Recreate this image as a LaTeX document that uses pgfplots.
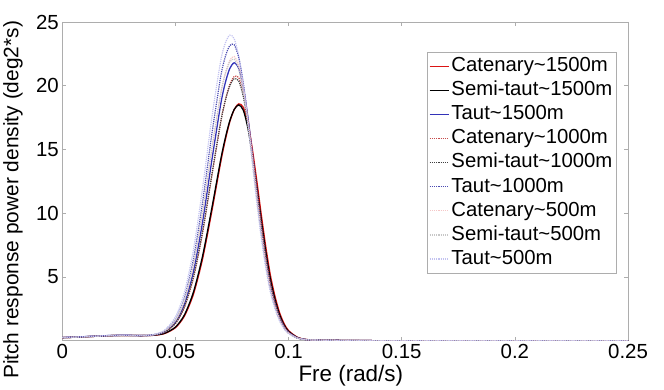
\documentclass[border=0pt]{standalone}
\usepackage{pgfplots}
\pgfplotsset{compat=1.18}
\usepackage{pgfplotstable}
\usepackage{fontspec}
\setmainfont{Liberation Sans}
\definecolor{cRed}{rgb}{0.86,0.08,0.08}
\definecolor{cBlue}{rgb}{0.2,0.2,0.72}
\definecolor{dRed}{rgb}{0.78,0.3,0.3}
\definecolor{dBlk}{rgb}{0.25,0.25,0.25}
\definecolor{dBlue}{rgb}{0.3,0.3,0.7}
\definecolor{pRed}{rgb}{0.96,0.78,0.78}
\definecolor{pGry}{rgb}{0.78,0.78,0.78}
\definecolor{pBlue}{rgb}{0.76,0.76,0.94}
\definecolor{frame}{rgb}{0.68,0.68,0.68}
\pgfplotstableread{
x c15 s15 t15 c10 s10 t10 c5 s5 t5
0 0.25 0.25 0.26 0.25 0.25 0.26 0.25 0.25 0.26
0.005 0.28 0.28 0.29 0.28 0.28 0.29 0.28 0.28 0.29
0.01 0.32 0.32 0.33 0.32 0.32 0.33 0.32 0.32 0.33
0.015 0.36 0.36 0.37 0.36 0.36 0.37 0.36 0.36 0.37
0.02 0.40 0.40 0.41 0.40 0.40 0.41 0.40 0.40 0.41
0.025 0.42 0.42 0.43 0.42 0.42 0.43 0.42 0.42 0.43
0.03 0.42 0.42 0.43 0.42 0.42 0.43 0.42 0.42 0.43
0.035 0.41 0.41 0.41 0.41 0.41 0.42 0.42 0.42 0.42
0.04 0.43 0.44 0.46 0.46 0.46 0.47 0.47 0.48 0.49
0.045 0.56 0.58 0.69 0.66 0.67 0.75 0.73 0.75 0.81
0.05 1.03 1.08 1.45 1.35 1.38 1.68 1.59 1.63 1.88
0.054 1.95 2.04 2.89 2.63 2.70 3.40 3.16 3.24 3.82
0.058 3.68 3.84 5.47 4.95 5.06 6.45 5.93 6.06 7.18
0.062 6.43 6.65 9.33 8.46 8.58 10.88 10.01 10.15 11.97
0.066 10.08 10.32 14.06 12.83 12.94 16.09 14.87 14.99 17.39
0.070 14.00 14.20 18.54 17.13 17.16 20.71 19.35 19.37 21.95
0.072 15.72 15.87 20.21 18.84 18.80 22.26 20.96 20.91 23.33
0.074 17.16 17.24 21.35 20.09 19.99 23.15 21.99 21.86 23.97
0.076 18.14 18.15 21.80 20.73 20.56 23.21 22.29 22.08 23.68
0.078 18.58 18.50 21.35 20.63 20.37 22.20 21.61 21.29 22.29
0.080 18.31 18.08 19.86 19.49 19.14 20.21 19.90 19.50 19.99
0.082 17.05 16.70 17.54 17.45 17.04 17.51 17.40 16.96 17.09
0.084 15.01 14.58 14.72 14.79 14.37 14.45 14.45 14.01 13.92
0.086 12.49 12.02 11.73 11.88 11.48 11.34 11.39 10.99 10.80
0.088 9.81 9.37 8.87 9.04 8.69 8.47 8.53 8.19 7.98
0.090 7.29 6.90 6.37 6.52 6.23 6.03 6.07 5.79 5.63
0.092 5.11 4.80 4.35 4.45 4.23 4.08 4.10 3.89 3.78
0.094 3.49 3.25 2.92 2.98 2.82 2.73 2.73 2.58 2.52
0.096 2.22 2.06 1.83 1.87 1.76 1.71 1.70 1.60 1.57
0.098 1.36 1.25 1.11 1.13 1.06 1.04 1.03 0.97 0.95
0.100 0.80 0.74 0.66 0.66 0.63 0.62 0.61 0.57 0.57
0.104 0.27 0.25 0.23 0.23 0.21 0.22 0.21 0.20 0.21
0.108 0.10 0.09 0.09 0.09 0.09 0.09 0.09 0.09 0.09
0.115 0.05 0.05 0.05 0.05 0.05 0.05 0.05 0.05 0.05
0.12 0.04 0.04 0.04 0.04 0.04 0.04 0.04 0.04 0.04
0.13 0.02 0.02 0.02 0.02 0.02 0.02 0.02 0.02 0.02
0.15 0.01 0.01 0.01 0.01 0.01 0.01 0.01 0.01 0.01
0.2 0.005 0.005 0.005 0.005 0.005 0.005 0.005 0.005 0.005
0.25 0 0 0 0 0 0 0 0 0
}\datatable
\begin{document}
\begin{tikzpicture}
\begin{axis}[
  name=ax,
  scale only axis,
  width=566bp, height=319bp,
  xmin=0, xmax=0.25, ymin=0, ymax=25,
  xtick={0,0.05,0.1,0.15,0.2,0.25},
  ytick={5,10,15,20,25},
  scaled x ticks=false,
  /pgf/number format/assume math mode=true,
  xticklabel style={/pgf/number format/fixed, /pgf/number format/precision=2},
  tick label style={font=\fontsize{20.5}{22}\selectfont},
  tick align=inside,
  major tick length=4bp,
  axis line style={frame, line width=0.8bp},
  every tick/.style={frame, line width=0.6bp},
  xlabel={Fre (rad/s)},
  ylabel={Pitch response power density (deg2*s)},
  xlabel style={font=\fontsize{22.5}{24}\selectfont, at={(axis description cs:0.51,-0.108)}, anchor=center},
  ylabel style={font=\fontsize{21}{23}\selectfont, at={(axis description cs:-0.087,0.442)}, anchor=center, rotate=0},
  legend cell align=left,
  legend style={at={(axis description cs:0.9806,0.906)}, anchor=north east,
    draw=frame, line width=0.7bp, fill=white,
    font=\fontsize{20.4}{24}\selectfont,
    inner xsep=2bp, inner ysep=2bp,
    nodes={text height=15bp, text depth=4.5bp, inner sep=2.3bp},
    row sep=0pt},
  legend image code/.code={\draw[#1] (0bp,0bp) -- (19bp,0bp);},
  every axis plot/.append style={smooth, tension=0.45},
]
\addplot[cRed, line width=1.3bp] table[x=x, y=c15] {\datatable};
\addlegendentry{Catenary\textasciitilde 1500m}
\addplot[black, line width=1.3bp] table[x=x, y=s15] {\datatable};
\addlegendentry{Semi-taut\textasciitilde 1500m}
\addplot[cBlue, line width=1.3bp] table[x=x, y=t15] {\datatable};
\addlegendentry{Taut\textasciitilde 1500m}
\addplot[dRed, line width=1.2bp, densely dotted] table[x=x, y=c10] {\datatable};
\addlegendentry{Catenary\textasciitilde 1000m}
\addplot[dBlk, line width=1.2bp, densely dotted] table[x=x, y=s10] {\datatable};
\addlegendentry{Semi-taut\textasciitilde 1000m}
\addplot[dBlue, line width=1.2bp, densely dotted] table[x=x, y=t10] {\datatable};
\addlegendentry{Taut\textasciitilde 1000m}
\addplot[pRed, line width=1.2bp, densely dotted] table[x=x, y=c5] {\datatable};
\addlegendentry{Catenary\textasciitilde 500m}
\addplot[pGry, line width=1.2bp, densely dotted] table[x=x, y=s5] {\datatable};
\addlegendentry{Semi-taut\textasciitilde 500m}
\addplot[pBlue, line width=1.2bp, densely dotted] table[x=x, y=t5] {\datatable};
\addlegendentry{Taut\textasciitilde 500m}
\end{axis}
\path ([shift={(-62bp,-49bp)}]ax.south west) rectangle ([shift={(36bp,22bp)}]ax.north east);
\end{tikzpicture}
\end{document}
